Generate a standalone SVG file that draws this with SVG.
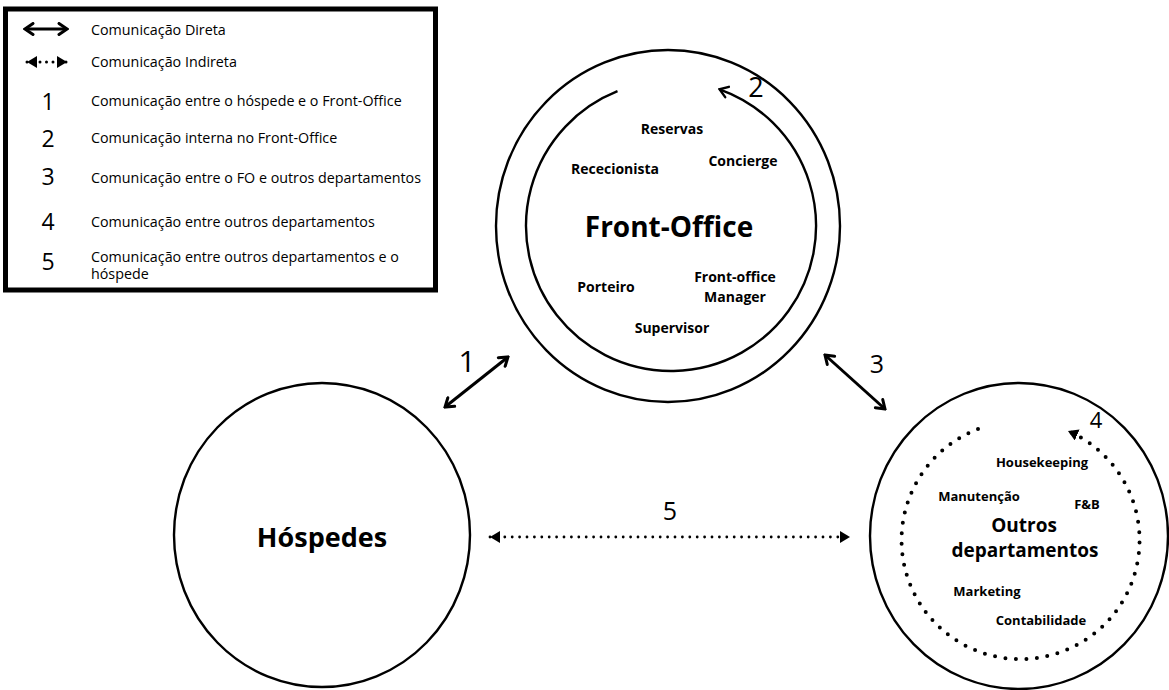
<svg xmlns="http://www.w3.org/2000/svg" width="1169" height="690" viewBox="0 0 1169 690">
<style>
text{font-family:"Open Sans","Liberation Sans",sans-serif;fill:#000}
.lg{font-size:14.3px}
.num{font-size:23px;font-weight:400;text-anchor:middle}
.dnum{font-weight:400;text-anchor:middle}
.b{font-weight:700;text-anchor:middle}
.ring{fill:none;stroke:#000;stroke-width:2.4}
.direct{fill:none;stroke:#000;stroke-width:3}
.dots{fill:none;stroke:#000;stroke-linecap:round}
</style>
<defs>
<marker id="chev" viewBox="0 0 14 14" refX="12" refY="7" markerWidth="14" markerHeight="14" markerUnits="userSpaceOnUse" orient="auto-start-reverse"><path d="M4,1.5 L12,7 L4,12.5" fill="none" stroke="#000" stroke-width="3" stroke-linecap="round"/></marker>
<marker id="chevs" viewBox="0 0 14 14" refX="12" refY="7" markerWidth="14" markerHeight="14" markerUnits="userSpaceOnUse" orient="auto-start-reverse"><path d="M4,1.5 L12,7 L4,12.5" fill="none" stroke="#000" stroke-width="2.4" stroke-linecap="round"/></marker>
<marker id="tri" viewBox="0 0 10 12" refX="10" refY="6" markerWidth="10" markerHeight="12" markerUnits="userSpaceOnUse" orient="auto-start-reverse"><path d="M0,0 L10,6 L0,12 Z" fill="#000"/></marker>
</defs>

<g id="legend">
<rect x="5.5" y="9" width="430" height="281" fill="#fff" stroke="#000" stroke-width="5"/>
<line x1="25" y1="29" x2="67" y2="29" class="direct" marker-start="url(#chev)" marker-end="url(#chev)"/>
<line x1="27" y1="62" x2="67" y2="62" class="dots" stroke-width="3" stroke-dasharray="0 6.5" marker-start="url(#tri)" marker-end="url(#tri)"/>
<text class="lg" x="91" y="35">Comunicação Direta</text>
<text class="lg" x="91" y="66.5">Comunicação Indireta</text>
<text class="num" x="48" y="110">1</text>
<text class="lg" x="91" y="106">Comunicação entre o hóspede e o Front-Office</text>
<text class="num" x="48" y="147">2</text>
<text class="lg" x="91" y="143">Comunicação interna no Front-Office</text>
<text class="num" x="48" y="185">3</text>
<text class="lg" x="91" y="183">Comunicação entre o FO e outros departamentos</text>
<text class="num" x="48" y="230">4</text>
<text class="lg" x="91" y="226.5">Comunicação entre outros departamentos</text>
<text class="num" x="48" y="270">5</text>
<text class="lg" x="91" y="262">Comunicação entre outros departamentos e o</text>
<text class="lg" x="91" y="279">hóspede</text>
</g>

<g id="front-office">
<ellipse class="ring" cx="668" cy="226" rx="172" ry="176"/>
<path class="ring" d="M617.5,91.2 A145,145 0 1 0 719.5,89.3" marker-end="url(#chevs)"/>
<text class="dnum" x="756" y="97" font-size="27">2</text>
<text class="b" x="672" y="134" font-size="14">Reservas</text>
<text class="b" x="743" y="166" font-size="14">Concierge</text>
<text class="b" x="615" y="174" font-size="14">Rececionista</text>
<text class="b" x="669" y="237" font-size="28">Front-Office</text>
<text class="b" x="606" y="292" font-size="14">Porteiro</text>
<text class="b" x="735" y="282" font-size="14">Front-office</text>
<text class="b" x="735" y="302" font-size="14">Manager</text>
<text class="b" x="672" y="333" font-size="14">Supervisor</text>
</g>

<g id="hospedes">
<ellipse class="ring" cx="322" cy="535" rx="148" ry="152"/>
<text class="b" x="322" y="547" font-size="27">Hóspedes</text>
</g>

<g id="outros">
<ellipse class="ring" cx="1019" cy="536" rx="149" ry="153"/>
<path class="dots" stroke-width="4" stroke-dasharray="0 10.5" d="M978,429 A119,119 0 1 0 1068,431" marker-end="url(#tri)"/>
<text class="dnum" x="1096" y="428" font-size="22">4</text>
<text class="b" x="1042" y="467" font-size="13">Housekeeping</text>
<text class="b" x="979" y="501" font-size="13">Manutenção</text>
<text class="b" x="1087" y="509" font-size="13">F&amp;B</text>
<text class="b" x="1024" y="532" font-size="19">Outros</text>
<text class="b" x="1025" y="557" font-size="19">departamentos</text>
<text class="b" x="987" y="596" font-size="13">Marketing</text>
<text class="b" x="1041" y="625" font-size="13">Contabilidade</text>
</g>

<g id="connectors">
<line x1="445" y1="407" x2="508" y2="357" class="direct" marker-start="url(#chev)" marker-end="url(#chev)"/>
<text class="dnum" x="467" y="372" font-size="30">1</text>
<line x1="825" y1="355" x2="885" y2="409" class="direct" marker-start="url(#chev)" marker-end="url(#chev)"/>
<text class="dnum" x="877" y="373" font-size="25">3</text>
<line x1="490" y1="537" x2="850" y2="537" class="dots" stroke-width="2.8" stroke-dasharray="0 7.4" marker-start="url(#tri)" marker-end="url(#tri)"/>
<text class="dnum" x="670" y="520" font-size="25">5</text>
</g>
</svg>
